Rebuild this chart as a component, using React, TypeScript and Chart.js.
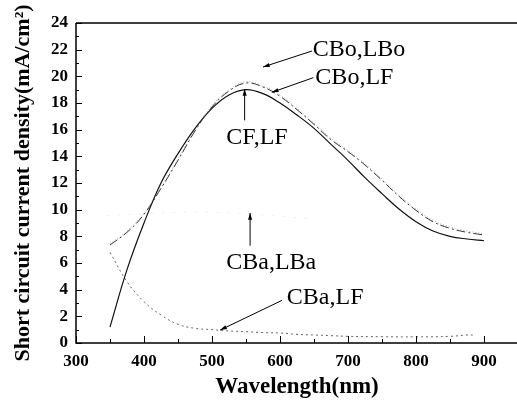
import React, { useEffect, useRef } from "react";
import { Chart, registerables } from "chart.js";

Chart.register(...registerables);

// Wavelength grid (nm)
const wavelengths = [350, 375, 400, 425, 450, 475, 500, 525, 550, 575, 600, 625, 650, 675, 700, 725, 750, 775, 800, 825, 850, 875, 900];
// Short circuit current density (mA/cm^2)
const cfLf = [1.2, 5.5, 9.0, 12.0, 14.2, 16.1, 17.6, 18.6, 19.0, 18.7, 18.0, 17.1, 16.1, 14.9, 13.7, 12.4, 11.2, 10.05, 9.1, 8.4, 8.0, 7.8, 7.67];
const cboLf = [7.35, 8.3, 9.65, 11.6, 13.7, 15.9, 17.7, 18.9, 19.5, 19.2, 18.5, 17.5, 16.4, 15.25, 14.35, 13.35, 12.2, 11.0, 9.95, 9.1, 8.6, 8.3, 8.1];
const cboLbo = [7.45, 8.4, 9.75, 11.7, 13.8, 16.0, 17.8, 19.0, 19.6, 19.3, 18.6, 17.6, 16.5, 15.35, 14.45, 13.45, 12.3, 11.1, 10.05, 9.2, 8.7, 8.4, 8.2];
const cbaLbaX = [345, 400, 450, 500, 550, 600, 650];
const cbaLba = [9.55, 9.7, 9.8, 9.8, 9.7, 9.5, 9.3];
const cbaLfX = [350, 375, 400, 425, 450, 475, 500, 525, 550, 575, 600, 625, 650, 675, 700, 750, 800, 850, 875, 885];
const cbaLf = [6.8, 4.6, 3.1, 2.1, 1.4, 1.1, 1.0, 0.9, 0.85, 0.78, 0.75, 0.65, 0.6, 0.55, 0.5, 0.47, 0.46, 0.5, 0.6, 0.6];

// Axis ranges and ticks
const xMin = 300;
const xMax = 950;
const xTickValues = [300, 400, 500, 600, 700, 800, 900];
const yMin = 0;
const yMax = 24;
const yStep = 2;

// Annotation labels (data units): text left/centre, arrow tail -> head
const annotationTexts = ["CBo,LBo", "CBo,LF", "CF,LF", "CBa,LBa", "CBa,LF"];
const annotationTextAt = [[648, 22.0], [652, 19.9], [521, 15.4], [521, 6.0], [610, 3.4]];
const annotationArrows = [
  [647, 21.9, 575, 20.7],
  [649, 19.9, 588, 18.8],
  [548, 16.7, 548, 19.05],
  [556, 7.3, 556, 9.75],
  [603, 3.2, 512, 0.97],
];

const serif = "'Liberation Serif', 'Times New Roman', serif";

const toXY = (xs: number[], ys: number[]) => xs.map((x, i) => ({ x, y: ys[i] }));

const framePlugin = {
  id: "frame",
  afterDraw(chart: any) {
    const { ctx, chartArea, scales } = chart;
    const { left, right, top, bottom } = chartArea;
    const xs = scales.x;
    const ys = scales.y;
    ctx.save();
    ctx.strokeStyle = "#000";
    ctx.lineWidth = 1.5;
    ctx.beginPath();
    ctx.moveTo(left, top);
    ctx.lineTo(right, top);
    ctx.moveTo(left, top);
    ctx.lineTo(left, bottom);
    ctx.lineTo(right, bottom);
    ctx.stroke();
    ctx.lineWidth = 1;
    ctx.beginPath();
    for (let v = yMin; v <= yMax; v += 1) {
      const py = Math.round(ys.getPixelForValue(v)) + 0.5;
      const len = v % 2 === 0 ? 6 : 3;
      ctx.moveTo(left, py);
      ctx.lineTo(left + len, py);
    }
    for (let v = xMin; v <= xMax; v += 50) {
      const px = Math.round(xs.getPixelForValue(v)) + 0.5;
      const len = v % 100 === 0 ? 7 : 4;
      ctx.moveTo(px, bottom);
      ctx.lineTo(px, bottom - len);
    }
    ctx.stroke();

    // annotations
    ctx.fillStyle = "#000";
    ctx.font = `24px ${serif}`;
    ctx.textBaseline = "middle";
    ctx.textAlign = "left";
    annotationTexts.forEach((t, i) => {
      const [tx, ty] = annotationTextAt[i];
      ctx.fillText(t, xs.getPixelForValue(tx), ys.getPixelForValue(ty));
    });
    annotationArrows.forEach(([x0, y0, x1, y1]) => {
      const px0 = xs.getPixelForValue(x0);
      const py0 = ys.getPixelForValue(y0);
      const px1 = xs.getPixelForValue(x1);
      const py1 = ys.getPixelForValue(y1);
      ctx.beginPath();
      ctx.moveTo(px0, py0);
      ctx.lineTo(px1, py1);
      ctx.stroke();
      const ang = Math.atan2(py1 - py0, px1 - px0);
      const hl = 7;
      ctx.beginPath();
      ctx.moveTo(px1, py1);
      ctx.lineTo(px1 - hl * Math.cos(ang - 0.3), py1 - hl * Math.sin(ang - 0.3));
      ctx.lineTo(px1 - hl * Math.cos(ang + 0.3), py1 - hl * Math.sin(ang + 0.3));
      ctx.closePath();
      ctx.fill();
    });
    ctx.restore();
  },
};

export default function App() {
  const ref = useRef<HTMLCanvasElement>(null);
  useEffect(() => {
    if (!ref.current) return;
    const chart = new Chart(ref.current, {
      type: "line",
      data: {
        datasets: [
          {
            label: "CBa,LBa",
            data: toXY(cbaLbaX, cbaLba),
            borderColor: "rgba(0,0,0,0.06)",
            borderWidth: 1,
            borderDash: [3, 8],
            pointRadius: 0,
            tension: 0.4,
          },
          {
            label: "CBo,LBo",
            data: toXY(wavelengths, cboLbo),
            borderColor: "rgba(60,60,60,0.4)",
            borderWidth: 1,
            borderDash: [1, 2],
            pointRadius: 0,
            tension: 0.4,
          },
          {
            label: "CBo,LF",
            data: toXY(wavelengths, cboLf),
            borderColor: "#333",
            borderWidth: 1,
            borderDash: [9, 3, 2, 3],
            pointRadius: 0,
            tension: 0.4,
          },
          {
            label: "CF,LF",
            data: toXY(wavelengths, cfLf),
            borderColor: "#111",
            borderWidth: 1.2,
            pointRadius: 0,
            tension: 0.4,
          },
          {
            label: "CBa,LF",
            data: toXY(cbaLfX, cbaLf),
            borderColor: "#666",
            borderWidth: 1,
            borderDash: [2, 3],
            pointRadius: 0,
            tension: 0.4,
          },
        ],
      },
      options: {
        animation: false,
        responsive: false,
        devicePixelRatio: 1,
        layout: { padding: { top: 23, right: 2, bottom: 0, left: 0 } },
        plugins: { legend: { display: false }, tooltip: { enabled: false } },
        scales: {
          x: {
            type: "linear",
            min: xMin,
            max: xMax,
            afterBuildTicks: (s: any) => {
              s.ticks = xTickValues.map((v) => ({ value: v }));
            },
            afterFit: (s: any) => {
              s.height = 58;
            },
            grid: { display: false, drawTicks: false },
            border: { display: false },
            ticks: {
              color: "#000",
              padding: 8,
              font: { family: serif, size: 17, weight: "bold" },
            },
            title: {
              display: true,
              text: "Wavelength(nm)",
              color: "#000",
              font: { family: serif, size: 23, weight: "bold" },
              padding: { top: 0, bottom: 0 },
            },
          },
          y: {
            type: "linear",
            min: yMin,
            max: yMax,
            ticks: {
              stepSize: yStep,
              color: "#000",
              padding: 8,
              font: { family: serif, size: 17, weight: "bold" },
            },
            afterFit: (s: any) => {
              s.width = 76;
            },
            grid: { display: false, drawTicks: false },
            border: { display: false },
            title: {
              display: true,
              text: "Short circuit current density(mA/cm²)",
              color: "#000",
              font: { family: serif, size: 22, weight: "bold" },
              padding: { top: 10, bottom: 0 },
            },
          },
        },
      },
      plugins: [framePlugin],
    });
    return () => chart.destroy();
  }, []);
  return (
    <div style={{ position: "fixed", left: 0, top: 0, width: 517, height: 401, overflow: "hidden", background: "#fff" }}>
      <canvas ref={ref} width={520} height={401} style={{ display: "block", width: 520, height: 401 }} />
    </div>
  );
}
